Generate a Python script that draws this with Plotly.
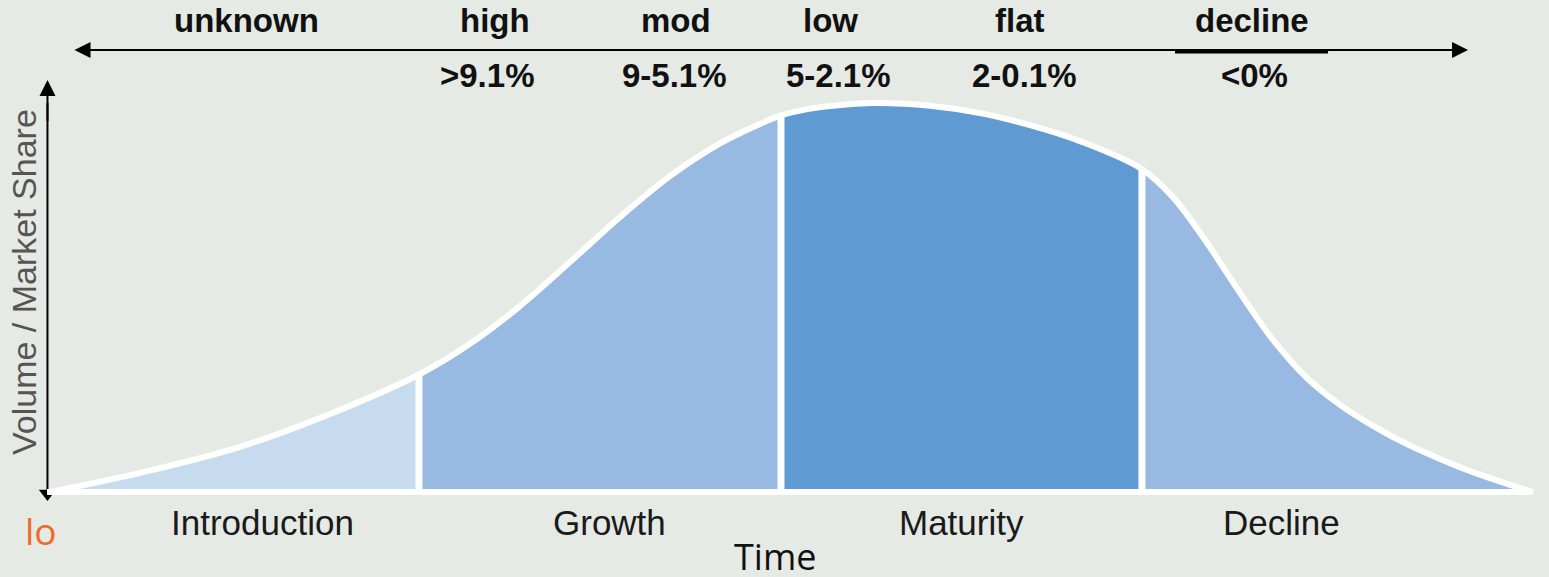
import plotly.graph_objects as go

# ---- data (time in arbitrary units 0-100, volume as % of peak) ----
TIME = [0, 6.07, 12.81, 19.55, 24.88, 28.32, 31.69, 35.06, 38.44, 41.81, 45.18, 47.40, 49.29,
        50.91, 52.6, 55.63, 59.34, 62.71, 66.08, 69.45, 73.63, 75.72, 78.02, 80.24, 82.47,
        84.76, 86.99, 89.21, 91.5, 93.73, 95.95, 98.25, 100]
VOLUME = [0, 4.9, 11.6, 21.1, 30.2, 38.1, 47.8, 59.1, 70.7, 81.2, 89.6, 93.8, 96.8,
          98.3, 99.2, 100, 99.3, 97.4, 94.3, 90.2, 83.0, 75.8, 64.0, 51.2, 39.1,
          29.3, 22.4, 17.0, 12.3, 8.5, 5.1, 2.1, 0]
STAGES = ["Introduction", "Growth", "Maturity", "Decline"]
STAGE_BOUNDS = [0, 24.88, 49.29, 73.63, 100]
STAGE_COLORS = ["#c7dbef", "#98b9e1", "#5f9ad2", "#98b9e1"]
GROWTH_LABELS = ["unknown", "high", "mod", "low", "flat", "decline"]
GROWTH_RATES = ["", ">9.1%", "9-5.1%", "5-2.1%", "2-0.1%", "<0%"]

BG = "#e6eae5"
fig = go.Figure()

# stage fills
for i, name in enumerate(STAGES):
    lo, hi = STAGE_BOUNDS[i], STAGE_BOUNDS[i + 1]
    xs = [t for t in TIME if lo <= t <= hi]
    ys = [v for t, v in zip(TIME, VOLUME) if lo <= t <= hi]
    fig.add_trace(go.Scatter(x=xs, y=ys, mode="lines", fill="tozeroy",
                             fillcolor=STAGE_COLORS[i],
                             line=dict(width=0, shape="spline", color=STAGE_COLORS[i]),
                             hoverinfo="skip", name=name))

# small downward arrowhead at the bottom of the vertical axis (partly hidden by baseline)
fig.add_trace(go.Scatter(x=[-0.17], y=[-0.39], mode="markers",
                         marker=dict(symbol="triangle-down", size=15, color="black"),
                         hoverinfo="skip"))
# vertical axis line
fig.add_trace(go.Scatter(x=[-0.17, -0.17], y=[0.5, 100], mode="lines",
                         line=dict(color="black", width=2), hoverinfo="skip"))

# white outline of the curve
fig.add_trace(go.Scatter(x=TIME, y=VOLUME, mode="lines",
                         line=dict(color="white", width=6, shape="spline"), hoverinfo="skip"))
# baseline
fig.add_trace(go.Scatter(x=[-0.2, TIME[-1]], y=[0, 0], mode="lines",
                         line=dict(color="white", width=6), hoverinfo="skip"))
# stage dividers
for b in STAGE_BOUNDS[1:-1]:
    v = VOLUME[TIME.index(b)]
    fig.add_trace(go.Scatter(x=[b, b], y=[0, v], mode="lines",
                             line=dict(color="white", width=7), hoverinfo="skip"))

BOLD = dict(family="Liberation Sans, Arial", size=33, color="#111111", weight="bold")
REG = dict(family="Liberation Sans, Arial", size=35, color="#1a1a1a")

label_x = [13.28, 30.0, 42.21, 52.6, 65.41, 81.05]
rate_x = [13.28, 29.47, 42.14, 53.14, 65.74, 81.19]
ann = []
for lab, xx in zip(GROWTH_LABELS, label_x):
    ann.append(dict(x=xx, y=121.1, text=lab, showarrow=False, font=BOLD,
                    xanchor="center", yanchor="middle"))
for lab, xx in zip(GROWTH_RATES, rate_x):
    if lab:
        ann.append(dict(x=xx, y=107.2, text=lab, showarrow=False, font=BOLD,
                        xanchor="center", yanchor="middle"))
stage_x = [14.3, 37.76, 61.43, 83.07]
for lab, xx in zip(STAGES, stage_x):
    ann.append(dict(x=xx, y=-7.84, text=lab, showarrow=False, font=REG,
                    xanchor="center", yanchor="middle"))

# top double arrow
ann.append(dict(x=95.62, y=113.6, ax=1.55, ay=113.6, axref="x", ayref="y",
                xref="x", yref="y", text="", showarrow=True, arrowhead=2,
                arrowside="end+start", arrowwidth=2, arrowsize=1.6, arrowcolor="black"))
# vertical arrow head (top)
ann.append(dict(x=-0.17, y=105.9, ax=-0.17, ay=95.0, axref="x", ayref="y",
                xref="x", yref="y", text="", showarrow=True, arrowhead=2,
                arrowside="end", arrowwidth=2, arrowsize=1.6, arrowcolor="black"))

# y label
ann.append(dict(x=-1.75, y=54.0, text="Volume / Market Share", textangle=-90,
                showarrow=False, font=dict(family="Liberation Sans, Arial", size=34,
                                           color="#555555"),
                xanchor="center", yanchor="middle"))
# lo
ann.append(dict(x=-0.61, y=-9.92, text="lo", showarrow=False,
                font=dict(family="Open Sans", size=37, color="#ef6a2b"),
                xanchor="center", yanchor="middle"))
# Time
ann.append(dict(x=0.5, xref="paper", y=-16.7, text="Time", showarrow=False,
                font=dict(family="Open Sans", size=36, color="#111111"),
                xanchor="center", yanchor="middle"))

fig.update_layout(
    width=1549, height=577, margin=dict(l=0, r=0, t=0, b=0),
    paper_bgcolor=BG, plot_bgcolor=BG, showlegend=False,
    xaxis=dict(visible=False, range=[-3.3715, 101.079], fixedrange=True),
    yaxis=dict(visible=False, range=[-21.85, 126.48], fixedrange=True),
    annotations=ann,
    shapes=[dict(type="line", xref="x", yref="y", x0=75.86, x1=86.18, y0=113.2, y1=113.2,
                 line=dict(color="black", width=3.5))],
)
fig.write_html("out.html")
